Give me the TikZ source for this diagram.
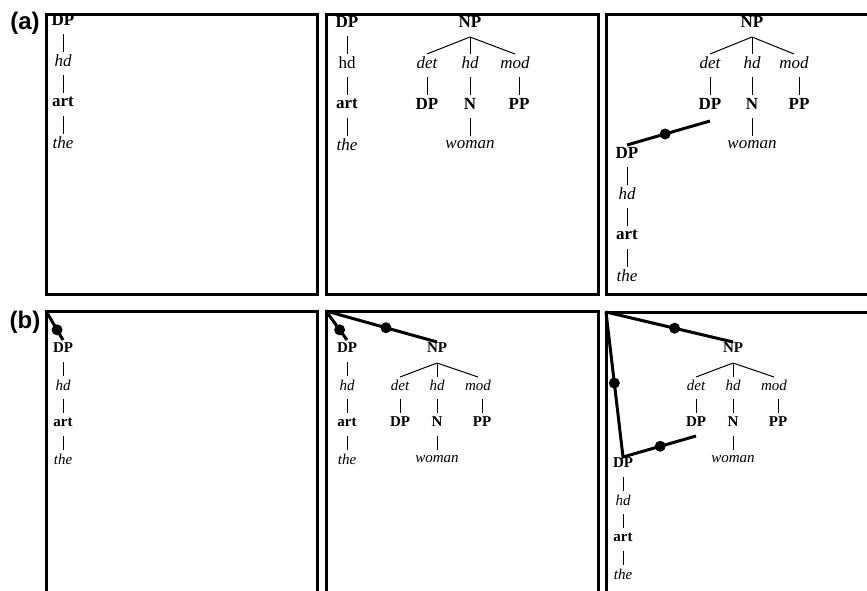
\documentclass[tikz,border=0pt]{standalone}
\usepackage{fontspec}
\setmainfont{Liberation Serif}
\setsansfont{Liberation Sans}
\usetikzlibrary{positioning}
\tikzstyle{panel}=[rectangle, draw=black, line width=3pt, outer sep=0pt, inner sep=0pt, anchor=north west]
\tikzstyle{cat}=[font=\bfseries, inner sep=0pt]
\tikzstyle{fn}=[font=\itshape, inner sep=0pt]
\tikzstyle{fnplain}=[inner sep=0pt]
\tikzstyle{word}=[font=\itshape, inner sep=0pt]
\tikzstyle{edge}=[line width=1pt, shorten <=14pt, shorten >=9pt]
\tikzstyle{fork}=[line width=1pt]
\tikzstyle{link}=[line width=3pt]
\tikzstyle{dot}=[circle, fill=black, inner sep=0pt, minimum size=11pt]
\tikzstyle{tag}=[font=\sffamily\bfseries\fontsize{24}{24}\selectfont]

\begin{document}
\begin{tikzpicture}[x=1pt, y=-1pt, on grid]
	\useasboundingbox (0,0) rectangle (867,591);
	\node (a1) [panel, minimum width=271pt, minimum height=279pt] at (46,15) {};
	\node (a2) [panel, minimum width=272pt, minimum height=279pt] at (326,15) {};
	\node (a3) [panel, minimum width=275pt, minimum height=279pt] at (606,15) {};
	\node (b1) [panel, minimum width=271pt, minimum height=295pt] at (46,311) {};
	\node (b2) [panel, minimum width=272pt, minimum height=295pt] at (326,311) {};
	\node (b3) [panel, minimum width=275pt, minimum height=295pt] at (606,312) {};
	\node (taga) [tag] at (25,23) {(a)};
	\node (tagb) [tag] at (25,322) {(b)};

	\begin{scope}[node font=\fontsize{17}{20}\selectfont, node distance=41pt]
		\node (a1dp) [cat] at (63,20) {DP};
		\node (a1hd) [fn, below=of a1dp] {hd};
		\node (a1art) [cat, below=of a1hd] {art};
		\node (a1the) [word, below=of a1art] {the};

		\node (a2dp) [cat] at (347,22) {DP};
		\node (a2hd) [fnplain, below=of a2dp] {hd};
		\node (a2art) [cat, below=of a2hd] {art};
		\node (a2the) [word, below=of a2art] {the};
		\node (a2np) [cat] at (470,22) {NP};
		\node (a2det) [fn, below left=41pt and 43pt of a2np] {det};
		\node (a2h) [fn, below=of a2np] {hd};
		\node (a2mod) [fn, below right=41pt and 45pt of a2np] {mod};
		\node (a2dpd) [cat, below=of a2det] {DP};
		\node (a2n) [cat, below=of a2h] {N};
		\node (a2pp) [cat, below=of a2mod, xshift=4pt] {PP};
		\node (a2woman) [word, below=of a2n] {woman};

		\node (a3np) [cat] at (752,22) {NP};
		\node (a3det) [fn, below left=41pt and 42pt of a3np] {det};
		\node (a3h) [fn, below=of a3np] {hd};
		\node (a3mod) [fn, below right=41pt and 42pt of a3np] {mod};
		\node (a3dpd) [cat, below=of a3det] {DP};
		\node (a3n) [cat, below=of a3h] {N};
		\node (a3pp) [cat, below=of a3mod, xshift=5pt] {PP};
		\node (a3woman) [word, below=of a3n] {woman};
		\node (a3dp) [cat] at (627,153) {DP};
		\node (a3hd) [fn, below=of a3dp] {hd};
		\node (a3art) [cat, below=of a3hd] {art};
		\node (a3the) [word, below=of a3art] {the};
	\end{scope}

	\begin{scope}[node font=\fontsize{15}{18}\selectfont, node distance=37pt]
		\node (b1dp) [cat] at (63,348) {DP};
		\node (b1hd) [fn, below=of b1dp] {hd};
		\node (b1art) [cat, below=of b1hd] {art};
		\node (b1the) [word, below=of b1art] {the};

		\node (b2dp) [cat] at (347,348) {DP};
		\node (b2hd) [fn, below=of b2dp] {hd};
		\node (b2art) [cat, below=of b2hd] {art};
		\node (b2the) [word, below=of b2art] {the};
		\node (b2np) [cat] at (437,348) {NP};
		\node (b2det) [fn, below left=37pt and 37pt of b2np] {det};
		\node (b2h) [fn, below=of b2np] {hd};
		\node (b2mod) [fn, below right=37pt and 41pt of b2np] {mod};
		\node (b2dpd) [cat, below=of b2det] {DP};
		\node (b2n) [cat, below=of b2h] {N};
		\node (b2pp) [cat, below=of b2mod, xshift=4pt] {PP};
		\node (b2woman) [word, below=of b2n] {woman};

		\node (b3np) [cat] at (733,348) {NP};
		\node (b3det) [fn, below left=37pt and 37pt of b3np] {det};
		\node (b3h) [fn, below=of b3np] {hd};
		\node (b3mod) [fn, below right=37pt and 41pt of b3np] {mod};
		\node (b3dpd) [cat, below=of b3det] {DP};
		\node (b3n) [cat, below=of b3h] {N};
		\node (b3pp) [cat, below=of b3mod, xshift=4pt] {PP};
		\node (b3woman) [word, below=of b3n] {woman};
		\node (b3dp) [cat] at (623,463) {DP};
		\node (b3hd) [fn, below=of b3dp] {hd};
		\node (b3art) [cat, below=of b3hd] {art};
		\node (b3the) [word, below=of b3art] {the};
	\end{scope}

	\draw [edge] (a1dp.center) -- (a1hd.center);
	\draw [edge] (a1hd.center) -- (a1art.center);
	\draw [edge] (a1art.center) -- (a1the.center);

	\draw [edge] (a2dp.center) -- (a2hd.center);
	\draw [edge] (a2hd.center) -- (a2art.center);
	\draw [edge] (a2art.center) -- (a2the.center);
	\draw [fork] ([yshift=-15pt]a2np.center) -- ([yshift=9pt]a2det.center);
	\draw [fork] ([yshift=-15pt]a2np.center) -- ([yshift=9pt]a2h.center);
	\draw [fork] ([yshift=-15pt]a2np.center) -- ([yshift=9pt]a2mod.center);
	\draw [edge] (a2det.center) -- (a2dpd.center);
	\draw [edge] (a2h.center) -- (a2n.center);
	\draw [edge] (a2pp.center |- a2mod.center) -- (a2pp.center);
	\draw [edge] (a2n.center) -- (a2woman.center);

	\draw [fork] ([yshift=-15pt]a3np.center) -- ([yshift=9pt]a3det.center);
	\draw [fork] ([yshift=-15pt]a3np.center) -- ([yshift=9pt]a3h.center);
	\draw [fork] ([yshift=-15pt]a3np.center) -- ([yshift=9pt]a3mod.center);
	\draw [edge] (a3det.center) -- (a3dpd.center);
	\draw [edge] (a3h.center) -- (a3n.center);
	\draw [edge] (a3pp.center |- a3mod.center) -- (a3pp.center);
	\draw [edge] (a3n.center) -- (a3woman.center);
	\draw [edge] (a3dp.center) -- (a3hd.center);
	\draw [edge] (a3hd.center) -- (a3art.center);
	\draw [edge] (a3art.center) -- (a3the.center);
	\draw [link] ([yshift=8pt]a3dp.center) -- node[dot, pos=.46] {} ([yshift=-17pt]a3dpd.center);

	\draw [edge] (b1dp.center) -- (b1hd.center);
	\draw [edge] (b1hd.center) -- (b1art.center);
	\draw [edge] (b1art.center) -- (b1the.center);
	\draw [link] (b1.north west) -- node[dot, pos=.65] {} ([yshift=8pt]b1dp.center);

	\draw [edge] (b2dp.center) -- (b2hd.center);
	\draw [edge] (b2hd.center) -- (b2art.center);
	\draw [edge] (b2art.center) -- (b2the.center);
	\draw [fork] ([yshift=-15pt]b2np.center) -- ([yshift=8pt]b2det.center);
	\draw [fork] ([yshift=-15pt]b2np.center) -- ([yshift=8pt]b2h.center);
	\draw [fork] ([yshift=-15pt]b2np.center) -- ([yshift=8pt]b2mod.center);
	\draw [edge] (b2det.center) -- (b2dpd.center);
	\draw [edge] (b2h.center) -- (b2n.center);
	\draw [edge] (b2pp.center |- b2mod.center) -- (b2pp.center);
	\draw [edge] (b2n.center) -- (b2woman.center);
	\draw [link] (b2.north west) -- node[dot, pos=.65] {} ([yshift=8pt]b2dp.center);
	\draw [link] (b2.north west) -- node[dot, pos=.54] {} ([yshift=6pt]b2np.center);

	\draw [fork] ([yshift=-15pt]b3np.center) -- ([yshift=8pt]b3det.center);
	\draw [fork] ([yshift=-15pt]b3np.center) -- ([yshift=8pt]b3h.center);
	\draw [fork] ([yshift=-15pt]b3np.center) -- ([yshift=8pt]b3mod.center);
	\draw [edge] (b3det.center) -- (b3dpd.center);
	\draw [edge] (b3h.center) -- (b3n.center);
	\draw [edge] (b3pp.center |- b3mod.center) -- (b3pp.center);
	\draw [edge] (b3n.center) -- (b3woman.center);
	\draw [edge] (b3dp.center) -- (b3hd.center);
	\draw [edge] (b3hd.center) -- (b3art.center);
	\draw [edge] (b3art.center) -- (b3the.center);
	\draw [link] (b3.north west) -- node[dot, pos=.54] {} ([yshift=6pt]b3np.center);
	\draw [link] (b3.north west) -- node[dot, pos=.49] {} ([yshift=6pt]b3dp.center) -- node[dot, pos=.51] {} ([yshift=-14pt]b3dpd.center);
\end{tikzpicture}
\end{document}
